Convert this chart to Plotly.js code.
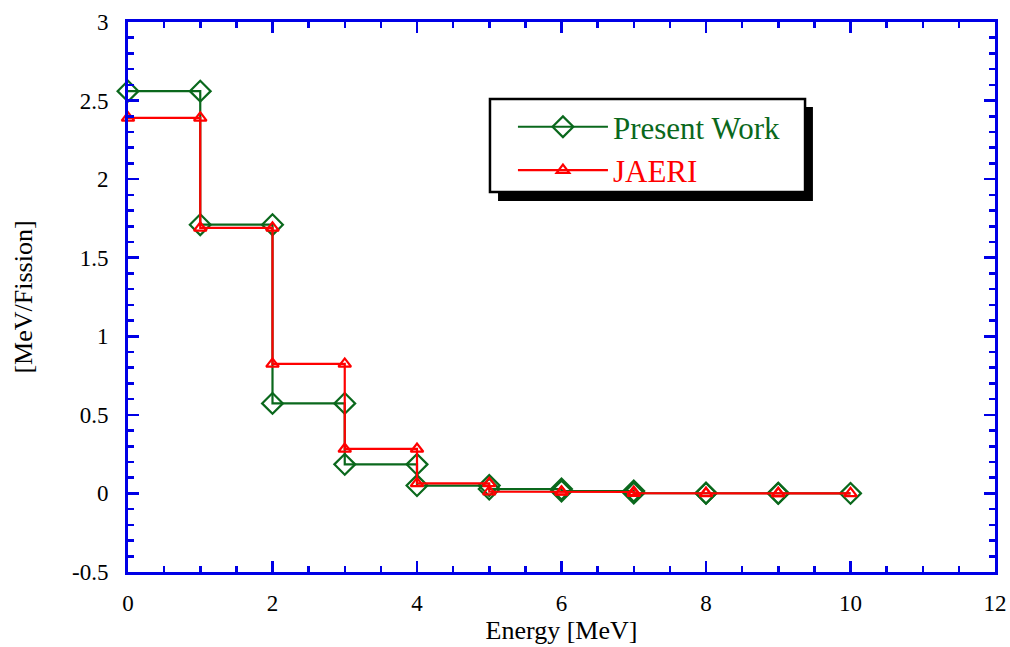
<!DOCTYPE html>
<html>
<head>
<meta charset="utf-8">
<script src="https://cdn.plot.ly/plotly-3.0.1.min.js"></script>
<style>html,body{margin:0;padding:0;background:#fff;}#chart{width:1010px;height:647px;}</style>
</head>
<body>
<div id="chart"></div>
<script>
// Energy bin edges [MeV]
const binEdges = [0, 1, 2, 3, 4, 5, 6, 7, 8, 9, 10];
// Spectrum values per bin [MeV/Fission]
const presentWork = [2.56, 1.71, 0.573, 0.185, 0.05, 0.028, 0.015, 0.002, 0.001, 0.0005];
const jaeri = [2.39, 1.69, 0.824, 0.283, 0.064, 0.011, 0.009, 0.001, 0.0005, 0.0002];
const xTicks = [0, 2, 4, 6, 8, 10, 12];
const yTicks = [-0.5, 0, 0.5, 1, 1.5, 2, 2.5, 3];

function steps(edges, vals) {
  const x = [], y = [];
  for (let i = 0; i < vals.length; i++) {
    x.push(edges[i], edges[i + 1]);
    y.push(vals[i], vals[i]);
  }
  return {x, y};
}

const GREEN = '#0a681c';
const RED = '#ff0000';
const BLUE = '#0000e6';
const FONT = 'Liberation Serif, Times New Roman, serif';

const p = steps(binEdges, presentWork);
const j = steps(binEdges, jaeri);

const traces = [
  {
    x: p.x, y: p.y, mode: 'lines+markers', type: 'scatter', cliponaxis: false,
    name: '<span style="color:' + GREEN + '">Present Work</span>',
    line: {color: GREEN, width: 2.2},
    marker: {symbol: 'diamond-open', size: 16, color: GREEN, line: {width: 2.2, color: GREEN}}
  },
  {
    x: j.x, y: j.y, mode: 'lines+markers', type: 'scatter', cliponaxis: false,
    name: '<span style="color:' + RED + '">JAERI</span>',
    line: {color: RED, width: 2.2},
    marker: {symbol: 'triangle-up-open', size: 11, color: RED, line: {width: 2.2, color: RED}}
  }
];

const axisCommon = {
  showgrid: false, zeroline: false, showline: true, linecolor: BLUE, linewidth: 3,
  mirror: 'allticks', ticks: 'inside', tickcolor: BLUE, tickwidth: 2.5, ticklen: 11,
  tickfont: {family: FONT, size: 23, color: '#000'},
  minor: {ticks: 'inside', ticklen: 6, tickcolor: BLUE, tickwidth: 2.5, showgrid: false}
};

const layout = {
  width: 1010, height: 647,
  margin: {l: 128, r: 15, t: 22, b: 75},
  paper_bgcolor: '#fff', plot_bgcolor: '#fff',
  font: {family: FONT, color: '#000'},
  xaxis: Object.assign({}, axisCommon, {
    range: [0, 12], tickvals: xTicks, ticktext: xTicks.map(String),
    minor: Object.assign({}, axisCommon.minor, {dtick: 0.5, tick0: 0}),
    ticklabelstandoff: 8,
    title: {text: 'Energy [MeV]', font: {family: FONT, size: 26, color: '#000'}, standoff: 2}
  }),
  yaxis: Object.assign({}, axisCommon, {
    range: [-0.5, 3], tickvals: yTicks, ticktext: yTicks.map(String),
    minor: Object.assign({}, axisCommon.minor, {dtick: 0.1, tick0: 0}),
    ticklabelstandoff: 12,
    title: {text: '[MeV/Fission]', font: {family: FONT, size: 26, color: '#000'}, standoff: 32}
  }),
  showlegend: true,
  legend: {
    x: 0.444, y: 0.858, xanchor: 'left', yanchor: 'top',
    bgcolor: 'rgba(0,0,0,0)', borderwidth: 0,
    font: {family: FONT, size: 31},
    itemwidth: 90, tracegroupgap: 0
  },
  shapes: [
    {type: 'rect', xref: 'paper', yref: 'paper', x0: 0.4268, x1: 0.790, y0: 0.6745, y1: 0.8455,
     fillcolor: '#000', line: {width: 0}, layer: 'above'},
    {type: 'rect', xref: 'paper', yref: 'paper', x0: 0.4175, x1: 0.7809, y0: 0.691, y1: 0.86,
     fillcolor: '#fff', line: {width: 2.5, color: '#000'}, layer: 'above'}
  ]
};

Plotly.newPlot('chart', traces, layout, {displayModeBar: false, staticPlot: true});
</script>
</body>
</html>
